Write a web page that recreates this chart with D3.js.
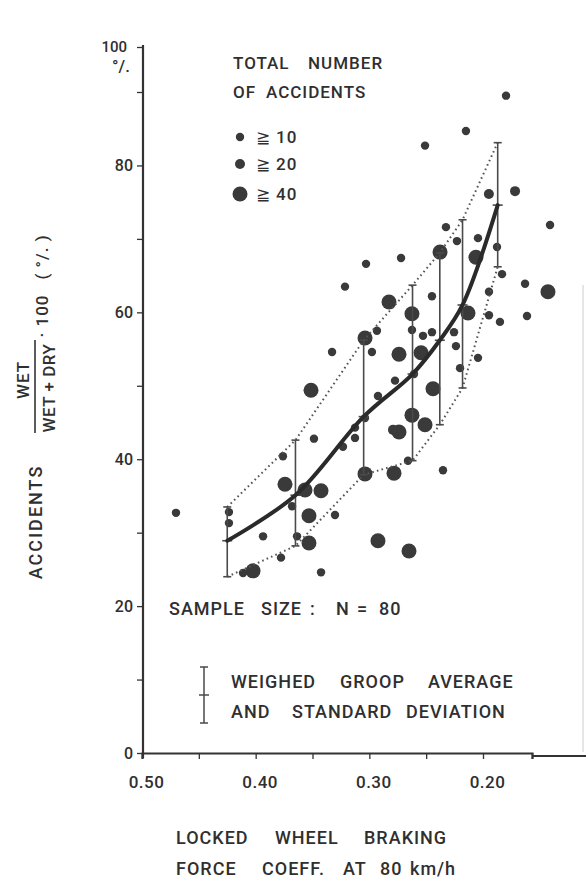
<!DOCTYPE html>
<html><head><meta charset="utf-8">
<script src="https://cdn.jsdelivr.net/npm/d3@7"></script>
<style>
body{margin:0;background:#fff}
svg{display:block}
text{font-family:Roboto,"DejaVu Sans",sans-serif;fill:#2f2f2f}
</style>
</head><body>
<svg id="chart" width="586" height="880"></svg>
<script>
// ---- data ----
const friction = [0.1765,0.215,0.251,0.194,0.1673,0.1316,0.2326,0.2229,0.2044,0.2062,0.1857,0.2378,0.2721,0.3029,0.3214,0.2827,0.2449,0.2625,0.2132,0.1806,0.1571,0.1337,0.1939,0.1551,0.1939,0.1827,0.2933,0.2625,0.2528,0.2449,0.2255,0.3038,0.3328,0.2977,0.2739,0.2545,0.2238,0.2044,0.2202,0.2774,0.2607,0.3513,0.2440,0.2924,0.2625,0.3038,0.3126,0.2739,0.2792,0.2510,0.3126,0.3487,0.3232,0.3038,0.2783,0.2660,0.2352,0.3760,0.3742,0.3566,0.3425,0.3680,0.3531,0.3302,0.4701,0.4235,0.4235,0.3935,0.3636,0.3531,0.3777,0.4023,0.3425,0.2924,0.2651,0.4111];
const wetShare = [89.5,84.7,82.7,76.1,76.5,71.9,71.6,69.7,70.1,67.5,68.9,68.2,67.4,66.6,63.5,61.4,62.2,59.8,59.9,65.2,63.9,62.8,62.8,59.5,59.6,58.7,57.5,57.6,56.8,57.3,57.3,56.5,54.6,54.6,54.3,54.5,55.4,53.8,52.4,50.7,51.6,49.4,49.6,48.6,46.0,45.6,44.3,43.7,44.0,44.7,42.9,42.8,41.7,38.0,38.1,39.8,38.5,40.4,36.6,35.8,35.7,33.6,32.3,32.4,32.7,32.8,31.3,29.5,29.5,28.6,26.6,24.8,24.6,28.9,27.5,24.5];
const accidentClass = [10,10,10,20,20,10,10,10,10,40,10,40,10,10,10,40,10,40,40,10,10,40,10,10,10,10,10,10,10,10,10,40,10,10,40,40,10,10,10,10,10,40,40,10,40,10,10,40,20,40,10,10,10,40,40,10,10,10,40,40,40,10,40,10,10,10,10,10,10,40,10,40,10,40,40,10];

const groupX     = [0.425,0.365,0.305,0.262,0.238,0.218,0.185];
const groupMean  = [28.9,35.1,45.8,51.6,56.2,61.0,74.6];
const groupUpper = [33.5,42.6,56.2,63.7,68.1,72.6,83.1];
const groupLower = [24.0,28.2,37.9,39.8,44.7,49.7,66.2];

const xTickValues = [0.50,0.45,0.40,0.35,0.30,0.25,0.20,0.15];
const xTickLabels = {"0.5":"0.50","0.4":"0.40","0.3":"0.30","0.2":"0.20"};
const yTickValues = [0,10,20,30,40,50,60,70,80,90,100];
const yTickLabels = {0:"0",20:"20",40:"40",60:"60",80:"80",100:"100"};
const legendClasses = [10,20,40];

// ---- drawing ----
const svg = d3.select("#chart");
svg.append("rect").attr("width",586).attr("height",880).attr("fill","#fff");

const x = d3.scaleLinear().domain([0.50,0.20,0.15]).range([142,483,532]);
const y = d3.scaleLinear().domain([0,90,100]).range([753,92,47]);
const r = d3.scaleOrdinal().domain(legendClasses).range([4.2,5,7.5]);
const ink = "#333";

// page edge (scan)
svg.append("line").attr("x1",583).attr("x2",583).attr("y1",285).attr("y2",752)
  .attr("stroke","#d6d6d6").attr("stroke-width",1.2);

// y axis
const yAxis = svg.append("g").attr("transform","translate(143,0)")
  .call(d3.axisLeft(y).tickValues(yTickValues).tickSizeOuter(0).tickSize(6).tickPadding(4)
    .tickFormat(d => yTickLabels[d] !== undefined ? yTickLabels[d] : ""));
yAxis.select(".domain").attr("stroke",ink).attr("stroke-width",2.2).attr("d","M0,45V758");
yAxis.selectAll(".tick line").attr("stroke",ink).attr("stroke-width",1.3);
yAxis.selectAll(".tick text").attr("font-size",16).attr("font-weight",500).attr("fill","#2f2f2f")
  .attr("font-family","Roboto,sans-serif");
yAxis.selectAll(".tick text").filter(d => d === 100).attr("dx",-6).attr("font-size",15);

// x axis
const xAxis = svg.append("g").attr("transform","translate(0,753)")
  .call(d3.axisBottom(x).tickValues(xTickValues).tickSizeOuter(0).tickSize(6).tickPadding(17)
    .tickFormat(d => xTickLabels[String(+d.toFixed(2))] || ""));
xAxis.select(".domain").attr("stroke",ink).attr("stroke-width",2.2);
xAxis.selectAll(".tick line").attr("stroke",ink).attr("stroke-width",1.3);
xAxis.selectAll(".tick text").attr("font-size",17).attr("font-weight",500).attr("dx",4)
  .attr("fill","#2f2f2f").attr("font-family","Roboto,sans-serif").attr("letter-spacing",0.5);
svg.append("line").attr("x1",x(0.15)).attr("x2",586).attr("y1",756).attr("y2",756)
  .attr("stroke",ink).attr("stroke-width",1.8);

// percent sign at the top of the y axis
svg.append("text").attr("x",121).attr("y",72).attr("text-anchor","middle")
  .attr("font-size",17).attr("font-weight",500).text("°/.");

// data points
svg.append("g").selectAll("circle").data(friction).join("circle")
  .attr("cx",(d)=>x(d)).attr("cy",(d,i)=>y(wetShare[i])).attr("r",(d,i)=>r(accidentClass[i]))
  .attr("fill","#3a3a3a");

// dotted envelopes
const env = d3.line().x((d,i)=>x(groupX[i])).y(d=>y(d));
[groupUpper, groupLower].forEach(arr => {
  svg.append("path").attr("d",env(arr)).attr("fill","none").attr("stroke","#555")
    .attr("stroke-width",2).attr("stroke-dasharray","1.6,3.2");
});

// error bars
const bars = svg.append("g").attr("stroke","#4a4a4a").attr("stroke-width",1.6);
groupX.forEach((gx,i)=>{
  const cx = x(gx);
  bars.append("line").attr("x1",cx).attr("x2",cx).attr("y1",y(groupUpper[i])).attr("y2",y(groupLower[i]));
  bars.append("line").attr("x1",cx-4).attr("x2",cx+4).attr("y1",y(groupUpper[i])).attr("y2",y(groupUpper[i]));
  bars.append("line").attr("x1",cx-4).attr("x2",cx+4).attr("y1",y(groupLower[i])).attr("y2",y(groupLower[i]));
  bars.append("line").attr("x1",cx-5).attr("x2",cx+5).attr("y1",y(groupMean[i])).attr("y2",y(groupMean[i]));
});

// weighted average curve
const curve = d3.line().x((d,i)=>x(groupX[i])).y(d=>y(d)).curve(d3.curveCatmullRom.alpha(0.5));
svg.append("path").attr("d",curve(groupMean)).attr("fill","none").attr("stroke","#2a2a2a")
  .attr("stroke-width",4).attr("stroke-linecap","round");

// text helper: words placed at their own x positions
const words = (yp, list, size, ls) => {
  const t = svg.append("text").attr("y",yp).attr("font-size",size||18)
    .attr("letter-spacing",ls===undefined?1:ls).attr("font-weight",500);
  list.forEach(([xp,w]) => t.append("tspan").attr("x",xp).text(w));
};

// legend: total number of accidents
words(69,[[233,"TOTAL"],[308,"NUMBER"]],17);
words(98,[[233,"OF"],[266,"ACCIDENTS"]],17);
const legY = [137,164,194];
legendClasses.forEach((c,i)=>{
  svg.append("circle").attr("cx",240).attr("cy",legY[i]).attr("r",r(c)).attr("fill","#3a3a3a");
  words(legY[i]+6,[[256,"≧"],[276,String(c)]],17);
});

// sample size
words(615,[[169,"SAMPLE"],[261,"SIZE"],[310,":"],[336,"N"],[357,"="],[379,"80"]],18);

// error bar legend
const lg = svg.append("g").attr("stroke","#4a4a4a").attr("stroke-width",1.5);
lg.append("line").attr("x1",204).attr("x2",204).attr("y1",667).attr("y2",723);
lg.append("line").attr("x1",200).attr("x2",208).attr("y1",667).attr("y2",667);
lg.append("line").attr("x1",200).attr("x2",208).attr("y1",723).attr("y2",723);
lg.append("line").attr("x1",199).attr("x2",209).attr("y1",695).attr("y2",695);
words(688,[[231,"WEIGHED"],[340,"GROOP"],[428,"AVERAGE"]],18);
words(718,[[231,"AND"],[292,"STANDARD"],[406,"DEVIATION"]],18);

// x axis title
words(844,[[176,"LOCKED"],[275,"WHEEL"],[364,"BRAKING"]],18);
words(875,[[176,"FORCE"],[262,"COEFF."],[343,"AT"],[380,"80"],[410,"km/h"]],18);

// y axis title (rotated)
const rot = (cx,cy,s,size,ls) => svg.append("text").attr("transform",`translate(${cx},${cy}) rotate(-90)`)
  .attr("text-anchor","middle").attr("dy","0.36em").attr("font-size",size||17).attr("font-weight",500)
  .attr("letter-spacing",ls===undefined?1:ls).text(s);
rot(36,522,"ACCIDENTS",18,2);
rot(23,380,"WET",17,1);
rot(49,388,"WET + DRY",17,0.5);
svg.append("line").attr("x1",35).attr("x2",35).attr("y1",340).attr("y2",433)
  .attr("stroke",ink).attr("stroke-width",1.6);
rot(42,316,"· 100",17,1);
rot(42,257,"( °/. )",17,1);
</script>
</body></html>
